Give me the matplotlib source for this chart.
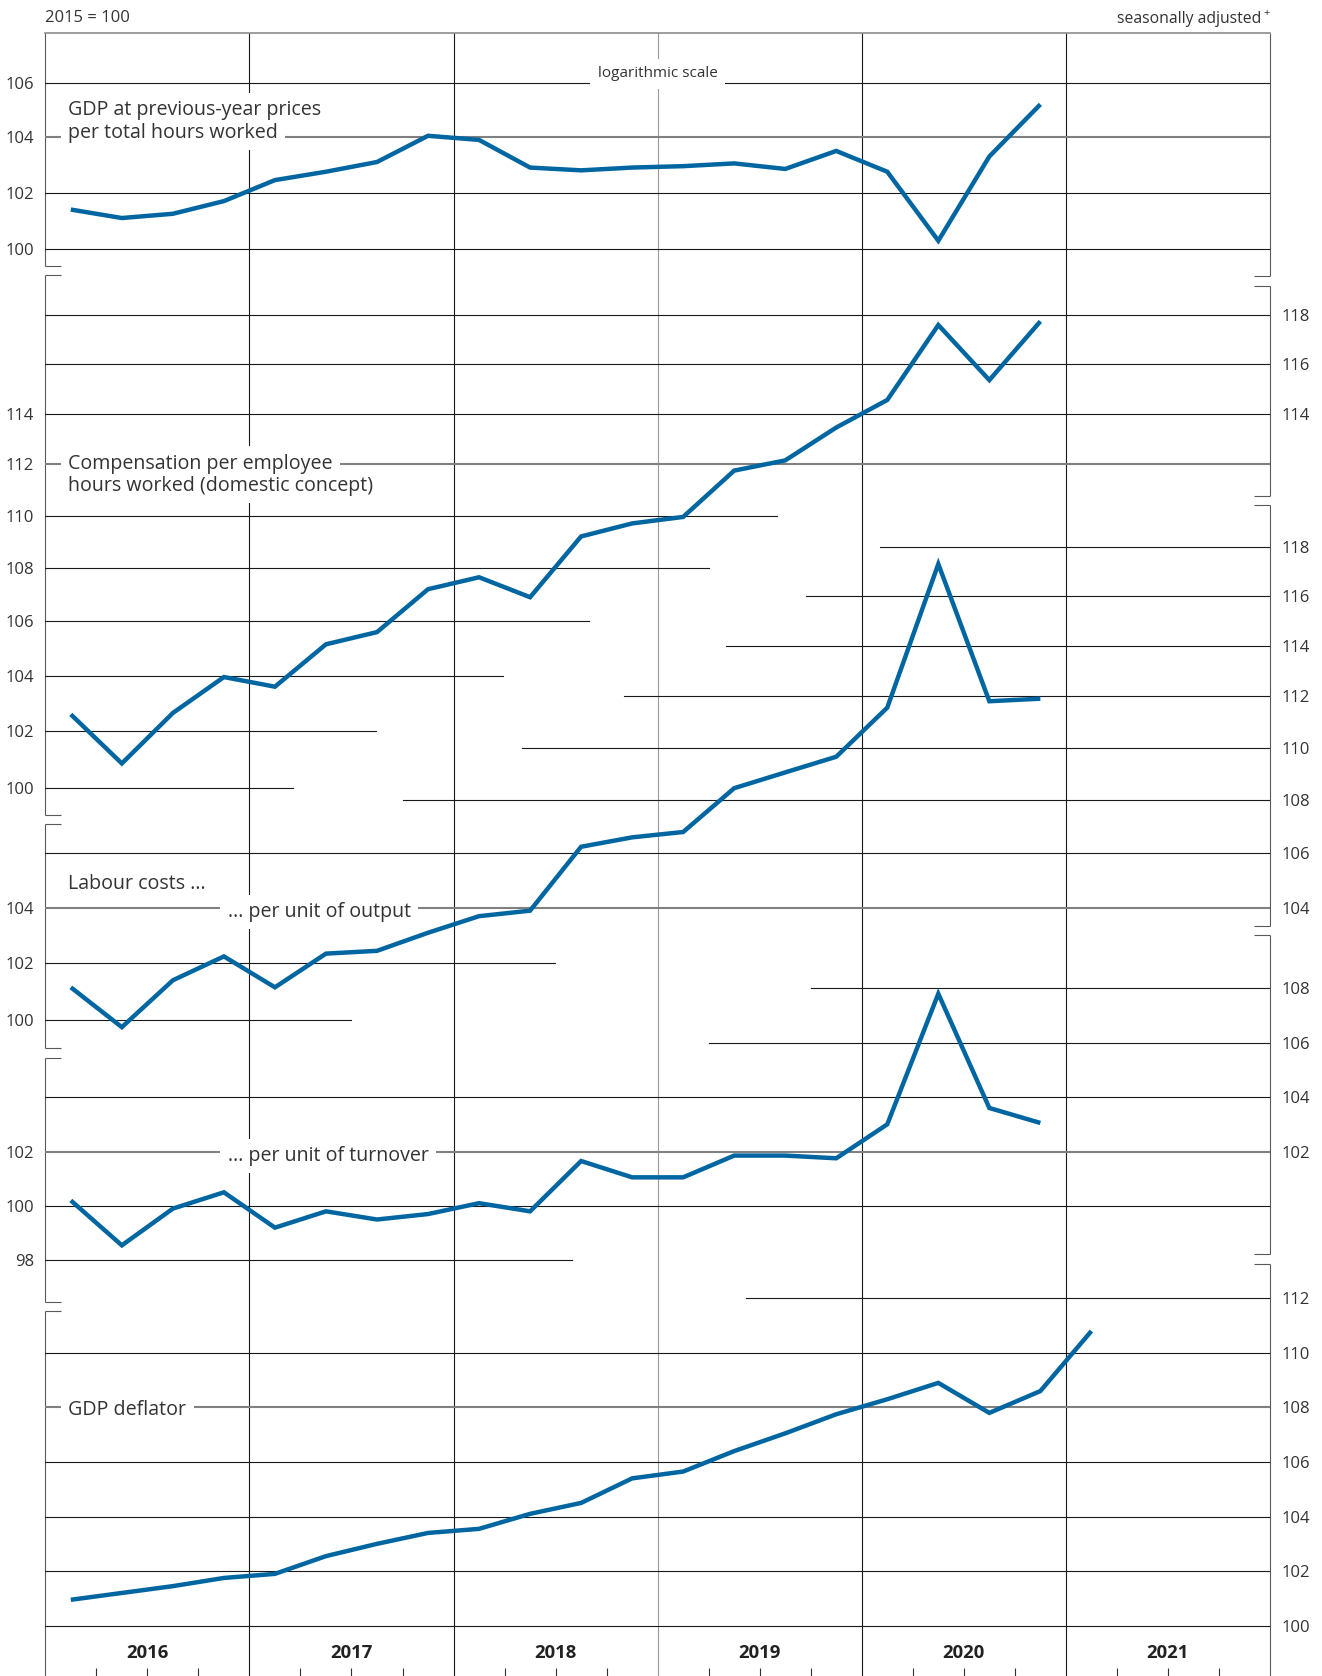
import numpy as np
import matplotlib.pyplot as plt
from matplotlib.ticker import FixedLocator, NullLocator, FuncFormatter

plt.rcParams['font.family'] = ['Open Sans', 'DejaVu Sans']

# quarterly index values, 2015 = 100, starting 2016 Q1
gdp_per_hour = [101.4, 101.1, 101.25, 101.7, 102.45, 102.75, 103.1, 104.05, 103.9, 102.9,
                102.8, 102.9, 102.95, 103.05, 102.85, 103.5, 102.75, 100.3, 103.3, 105.2]
compensation = [102.6, 100.85, 102.65, 103.95, 103.6, 105.15, 105.6, 107.2, 107.65, 106.9,
                109.2, 109.7, 109.95, 111.75, 112.15, 113.45, 114.55, 117.6, 115.35, 117.75]
ulc_output = [101.15, 99.75, 101.4, 102.25, 101.15, 102.35, 102.45, 103.1, 103.7, 103.9,
              106.25, 106.6, 106.8, 108.45, 109.05, 109.65, 111.55, 117.3, 111.8, 111.9]
ulc_turnover = [100.2, 98.55, 99.9, 100.5, 99.2, 99.8, 99.5, 99.7, 100.1, 99.8,
                101.65, 101.05, 101.05, 101.85, 101.85, 101.75, 103.0, 107.8, 103.6, 103.05]
deflator = [100.95, 101.2, 101.45, 101.75, 101.9, 102.55, 103.0, 103.4, 103.55, 104.1,
            104.5, 105.4, 105.65, 106.4, 107.05, 107.75, 108.3, 108.9, 107.8, 108.6, 110.8]
years = [2016, 2017, 2018, 2019, 2020, 2021]

# layout in pixels of the 1322x1676 picture (measured from top)
W, H = 1322, 1676
X0, X1 = 45.3, 1270.0
T, B = 33.0, 1676.0
NQ = 24
QPX = (X1 - X0) / NQ

BLUE = '#0066a1'
INK = '#333333'
GRID = '#1a1a1a'
LABELGREY = '#808080'
SPINE = '#5a5a5a'
LBL = 14.1   # series label size
TCK = 12     # tick label size

def xf(px):
    return (px - X0) / (X1 - X0)

def limits(scale, anchor):
    (v0, p0), (v1, p1) = anchor
    if scale == 'log':
        f, finv = np.log, np.exp
    else:
        f, finv = (lambda v: v), (lambda v: v)
    per_px = (f(v1) - f(v0)) / (p0 - p1)
    return finv(f(v0) - (B - p0) * per_px), finv(f(v0) + (p0 - T) * per_px)

fig = plt.figure(figsize=(W / 100, H / 100), dpi=100)
rect = [X0 / W, 1 - B / H, (X1 - X0) / W, (B - T) / H]

# base layer: year lines, quarter ticks, frame
base = fig.add_axes(rect)
base.set_xlim(0, NQ)
base.set_ylim(B, T)
for s in base.spines.values():
    s.set_visible(False)
base.set_yticks([])
base.set_xticks([q for q in range(1, NQ) if q % 4])
base.tick_params(axis='x', direction='in', length=6, width=0.8, color=INK, labelbottom=False)
for q in range(4, NQ, 4):
    base.axvline(q, color='#9a9a9a' if q == 12 else GRID, lw=0.8, zorder=1)
for i, yr in enumerate(years):
    base.text(4 * i + 2, 1658.3, str(yr), ha='center', va='baseline', fontsize=13.3,
              fontweight='bold', color='#222222')

left_segments = [(33, 266), (275, 815), (824, 1048), (1058, 1302), (1311, 1676)]
right_segments = [(33, 276), (286, 496), (505, 926), (935, 1254), (1264, 1676)]
mark = 16 / QPX
for xs, sign, segs in [(0, 1, left_segments), (NQ, -1, right_segments)]:
    for a, b in segs:
        base.plot([xs, xs], [a, b], color=SPINE, lw=0.8, clip_on=False, solid_capstyle='butt')
        for y in (a, b):
            if y not in (T, B):
                base.plot([xs, xs + sign * mark], [y, y], color=SPINE, lw=0.8, clip_on=False,
                          solid_capstyle='butt')
base.plot([0, NQ], [T, T], color='#8c8c8c', lw=1.2, clip_on=False)

# panels: grid entries are (value, from px, to px, label line?)
panels = [
    dict(values=gdp_per_hour, scale='log', anchor=((100, 249.3), (106, 82.7)),
         left=[100, 102, 104, 106], right=[],
         grid=[(106, X0, X1, False), (104, X0, X1, True), (102, X0, X1, False), (100, X0, X1, False)],
         labels=[('GDP at previous-year prices', 104, 68.3, -22.4, 'left', LBL, 0.37),
                 ('per total hours worked', 104, 68.3, 1, 'left', LBL, 0.37),
                 ('logarithmic scale', 106, 657.5, -5.4, 'center', 11, 0.5)]),
    dict(values=compensation, scale='log', anchor=((100, 787.6), (118, 315.3)),
         left=[100, 102, 104, 106, 108, 110, 112, 114], right=[114, 116, 118],
         grid=[(118, X0, X1, False), (116, X0, X1, False), (114, X0, X1, False), (112, X0, X1, True),
               (110, X0, 777, False), (108, X0, 708.5, False), (106, X0, 589, False),
               (104, X0, 503.4, False), (102, X0, 376, False), (100, X0, 292.5, False)],
         labels=[('Compensation per employee', 112, 68.3, 4.3, 'left', LBL, 0.37),
                 ('hours worked (domestic concept)', 112, 68.3, 26.7, 'left', LBL, 0.37)]),
    dict(values=ulc_output, scale='log', anchor=((100, 1020), (118, 547)),
         left=[100, 102, 104], right=[104, 106, 108, 110, 112, 114, 116, 118],
         grid=[(118, 879.6, X1, False), (116, 805.8, X1, False), (114, 725.6, X1, False),
               (112, 624, X1, False), (110, 521.5, X1, False), (108, 403, X1, False),
               (106, X0, X1, False), (104, X0, X1, True), (102, X0, 554.7, False),
               (100, X0, 350.7, False)],
         labels=[('Labour costs ...', 104, 68.3, -19.4, 'left', LBL, 0.37),
                 ('... per unit of output', 104, 227.7, 9.3, 'left', LBL, 0.37)]),
    dict(values=ulc_turnover, scale='linear', anchor=((98, 1260.3), (108, 988.3)),
         left=[98, 100, 102], right=[102, 104, 106, 108],
         grid=[(108, 811, X1, False), (106, 708.5, X1, False), (104, X0, X1, False),
               (102, X0, X1, True), (100, X0, X1, False), (98, X0, 571.8, False)],
         labels=[('... per unit of turnover', 102, 227.6, 9.3, 'left', LBL, 0.37)]),
    dict(values=deflator, scale='linear', anchor=((100, 1625.7), (112, 1298.3)),
         left=[], right=[100, 102, 104, 106, 108, 110, 112],
         grid=[(112, 746, X1, False), (110, X0, X1, False), (108, X0, X1, True),
               (106, X0, X1, False), (104, X0, X1, False), (102, X0, X1, False),
               (100, X0, X1, False)],
         labels=[('GDP deflator', 108, 68.3, 8, 'left', LBL, 0.37)]),
]

fmt = FuncFormatter(lambda v, pos: f'{v:.0f}')

for i, p in enumerate(panels):
    ax = fig.add_axes(rect, label=f'panel{i}')
    ax.patch.set_visible(False)
    ax.set_xlim(0, NQ)
    ax.set_yscale(p['scale'])
    lo, hi = limits(p['scale'], p['anchor'])
    ax.set_ylim(lo, hi)
    for s in ax.spines.values():
        s.set_visible(False)
    ax.set_xticks([])
    ax.yaxis.set_major_locator(FixedLocator(p['left']))
    ax.yaxis.set_major_formatter(fmt)
    ax.yaxis.set_minor_locator(NullLocator())
    ax.tick_params(axis='y', length=0, pad=8, labelsize=TCK, labelcolor=INK)
    if p['right']:
        tw = ax.twinx()
        tw.set_yscale(p['scale'])
        tw.set_ylim(lo, hi)
        for s in tw.spines.values():
            s.set_visible(False)
        tw.yaxis.set_major_locator(FixedLocator(p['right']))
        tw.yaxis.set_major_formatter(fmt)
        tw.yaxis.set_minor_locator(NullLocator())
        tw.tick_params(axis='y', length=0, pad=8, labelsize=TCK, labelcolor=INK)

    for v, xa, xb, lab in p['grid']:
        ax.axhline(v, xmin=xf(xa), xmax=xf(xb), color=LABELGREY if lab else GRID,
                   lw=1.5 if lab else 0.8, zorder=1)

    x = np.arange(len(p['values'])) + 0.5
    ax.plot(x, p['values'], color=BLUE, lw=3.2, zorder=5,
            solid_joinstyle='miter', solid_capstyle='butt')

    # white knock-out boxes first, text on top, so stacked lines don't clip each other
    for txt, yv, xpx, dy, ha, size, pad in p['labels']:
        kw = dict(xy=(xf(xpx), yv), xycoords=('axes fraction', 'data'),
                  xytext=(0, -dy), textcoords='offset pixels', ha=ha, va='baseline',
                  fontsize=size)
        ax.annotate(txt, color='none', zorder=3,
                    bbox=dict(boxstyle=f'square,pad={pad}', fc='white', ec='none'), **kw)
        ax.annotate(txt, color=INK, zorder=4, **kw)

fig.text(X0 / W, 1 - 22 / H, '2015 = 100', ha='left', va='baseline', fontsize=12, color=INK)
fig.text(1261 / W, 1 - 22.7 / H, 'seasonally adjusted', ha='right', va='baseline',
         fontsize=11.3, color=INK)
fig.text(1263 / W, 1 - 15.6 / H, '+', ha='left', va='baseline', fontsize=8, color=INK)

fig.savefig('out.png', dpi=100, facecolor='white')
